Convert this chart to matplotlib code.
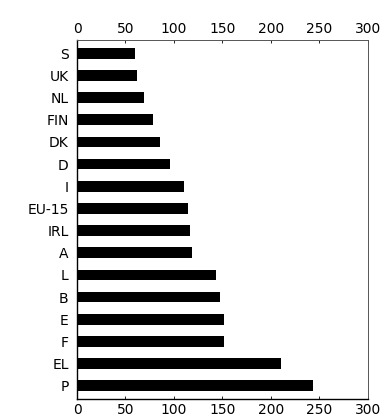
import matplotlib
matplotlib.use("Agg")
import matplotlib.pyplot as plt

categories = ["S", "UK", "NL", "FIN", "DK", "D", "I", "EU-15", "IRL", "A", "L", "B", "E", "F", "EL", "P"]
values = [60, 61.5, 69, 78, 85.5, 96, 110, 114, 116.5, 119, 143, 148, 151.5, 151.5, 210, 243]
xticks = [0, 50, 100, 150, 200, 250, 300]

fig = plt.figure(figsize=(3.82, 4.19), dpi=100)
ax = fig.add_axes([0.2016, 0.0477, 0.7614, 0.8568])
ypos = list(range(len(categories)))
ax.barh(ypos, values, height=0.48, color="black")
ax.set_ylim(len(categories) - 0.4, -0.6)
ax.set_xlim(0, 300)
ax.set_yticks(ypos)
ax.set_yticklabels(categories, fontsize=10)
ax.set_xticks(xticks)
ax.set_xticklabels([str(t) for t in xticks], fontsize=10)
ax.tick_params(axis="x", top=True, labeltop=True, bottom=True, labelbottom=True,
               direction="in", length=2, width=0.6, pad=3)
ax.tick_params(axis="y", length=0, pad=6)
for s in ["left", "bottom"]:
    ax.spines[s].set_linewidth(1.0)
for s in ["top", "right"]:
    ax.spines[s].set_linewidth(0.7)
    ax.spines[s].set_color("#555555")
fig.savefig("out.png", dpi=100)
